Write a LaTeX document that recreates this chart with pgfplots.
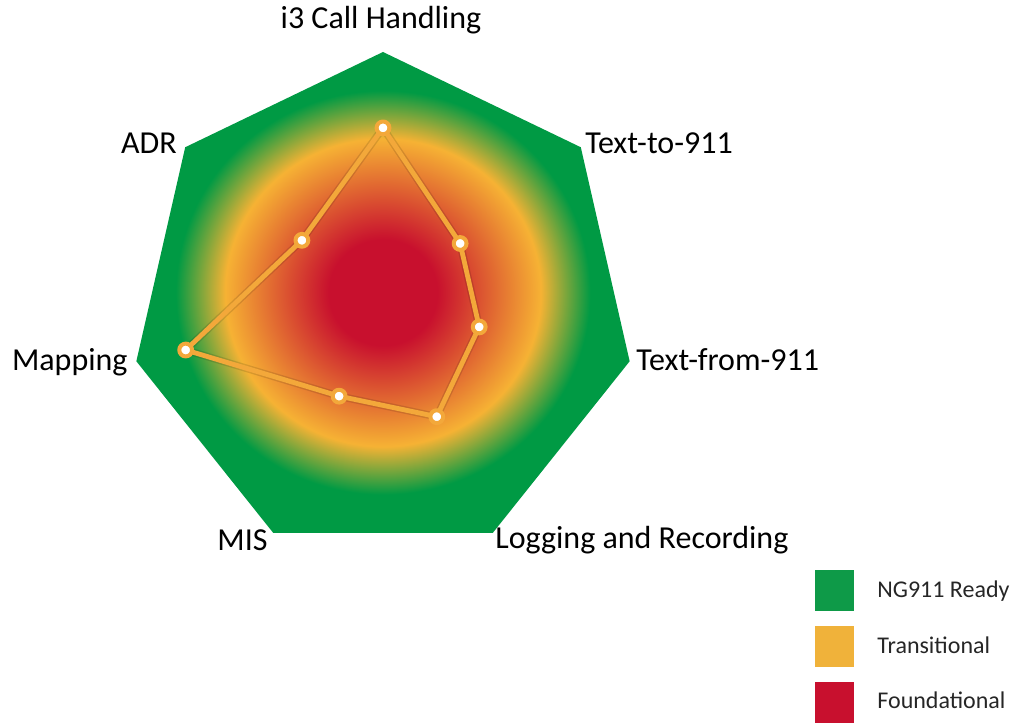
\documentclass[border=0pt]{standalone}
\usepackage{fontspec}
\setmainfont{Carlito}
\usepackage{pgfplots}
\pgfplotsset{compat=1.18}
\definecolor{cred}{RGB}{200,16,46}
\definecolor{corange}{RGB}{246,178,52}
\definecolor{cgreen}{RGB}{0,154,68}
\definecolor{cline}{RGB}{243,168,58}
\definecolor{lgreen}{RGB}{14,154,72}
\definecolor{lorange}{RGB}{240,178,58}
\definecolor{lred}{RGB}{200,16,46}
\pgfdeclareradialshading{ngshade}{\pgfpoint{0bp}{0bp}}{color(0bp)=(cred); color(5.5bp)=(cred); color(16bp)=(corange); color(21bp)=(cgreen); color(50bp)=(cgreen)}
\newcommand{\lbl}{\fontsize{16}{19}\selectfont}
\begin{document}
\begin{tikzpicture}
\begin{axis}[
  scale only axis, width=511.5pt, height=363.5pt,
  xmin=-1.5138, xmax=2.5296, ymin=-1.6680, ymax=1.2055,
  hide axis, clip=false,
  legend style={at={(axis cs:1.7075,-1.0474)}, anchor=north west, draw=none, fill=none,
    inner sep=0pt, outer sep=0pt, row sep=7.5pt,
    font=\fontsize{12}{14}\selectfont, text=black!85},
  legend cell align=left,
]
\addplot[forget plot, draw=none, shade, shading=ngshade, data cs=polar] coordinates {
  (90,1) (38.5714,1) (-12.8571,1) (-64.2857,1) (-115.7143,1) (192.8571,1) (141.4286,1)
} -- cycle;
\addplot[forget plot, black, opacity=0.12, line width=3.8pt, line join=round, data cs=polar] coordinates {
  (90,0.70) (38.5714,0.39) (-12.8571,0.39) (-64.2857,0.49) (-115.7143,0.40) (192.8571,0.80) (141.4286,0.41)
} -- cycle;
\addplot[forget plot, cline, line width=2.4pt, line join=round, mark=*, mark size=3.2pt,
  mark options={fill=white, draw=cline, line width=2pt}, data cs=polar] coordinates {
  (90,0.70) (38.5714,0.39) (-12.8571,0.39) (-64.2857,0.49) (-115.7143,0.40) (192.8571,0.80) (141.4286,0.41)
} -- cycle;
\addlegendimage{legend image code/.code={\fill[lgreen] (0pt,-10pt) rectangle (19pt,10pt); \path[draw=none,fill=none] (19pt,0pt) -- (29pt,0pt);}}
\addlegendentry{NG911 Ready}
\addlegendimage{legend image code/.code={\fill[lorange] (0pt,-10pt) rectangle (19pt,10pt); \path[draw=none,fill=none] (19pt,0pt) -- (29pt,0pt);}}
\addlegendentry{Transitional}
\addlegendimage{legend image code/.code={\fill[lred] (0pt,-10pt) rectangle (19pt,10pt); \path[draw=none,fill=none] (19pt,0pt) -- (29pt,0pt);}}
\addlegendentry{Foundational}
\node[anchor=center, inner sep=0pt, font=\lbl] at (axis cs:-0.008,1.126) {i3 Call Handling};
\node[anchor=east, inner sep=0pt, font=\lbl] at (axis cs:-0.814,0.640) {ADR};
\node[anchor=west, inner sep=0pt, font=\lbl] at (axis cs:0.798,0.640) {Text-to-911};
\node[anchor=west, inner sep=0pt, font=\lbl] at (axis cs:1.0,-0.217) {Text-from-911};
\node[anchor=east, inner sep=0pt, font=\lbl] at (axis cs:-1.008,-0.225) {Mapping};
\node[anchor=east, inner sep=0pt, font=\lbl] at (axis cs:-0.4545,-0.929) {MIS};
\node[anchor=west, inner sep=0pt, font=\lbl] at (axis cs:0.4427,-0.929) {Logging and Recording};
\path (rel axis cs:0,0) rectangle (rel axis cs:1,1);
\end{axis}
\end{tikzpicture}
\end{document}
